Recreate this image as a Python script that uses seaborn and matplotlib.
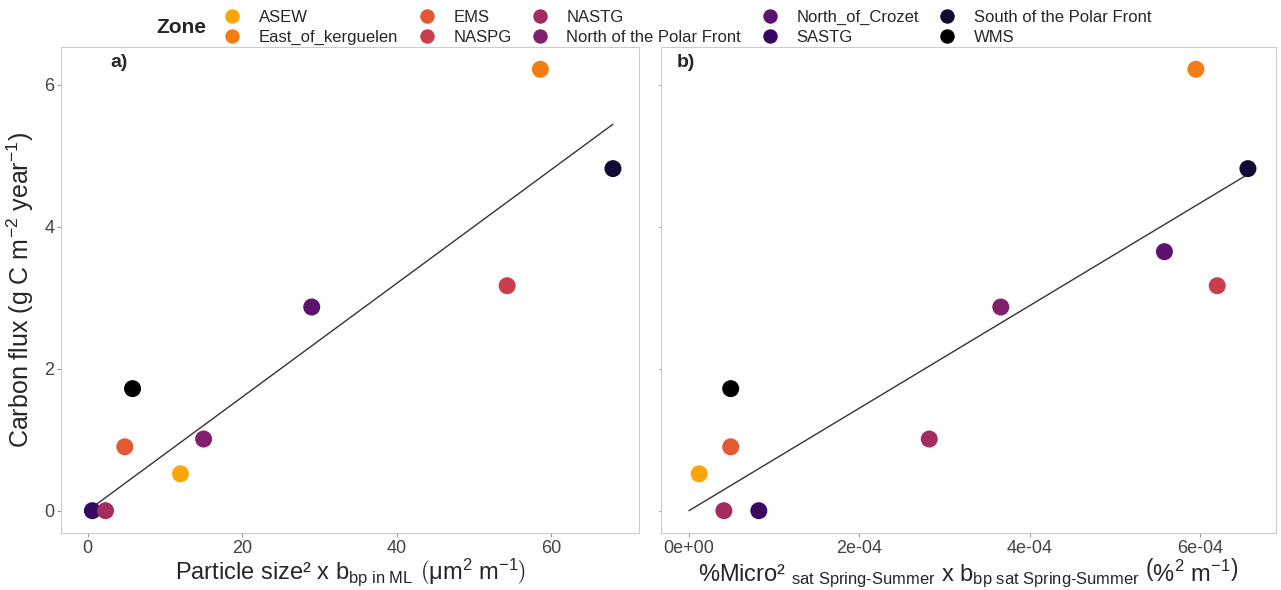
import numpy as np
import pandas as pd
import matplotlib
matplotlib.use("Agg")
import matplotlib.pyplot as plt
import seaborn as sns
from matplotlib.ticker import FuncFormatter

zones = ["ASEW", "East_of_kerguelen", "EMS", "NASPG", "NASTG",
         "North of the Polar Front", "North_of_Crozet", "SASTG",
         "South of the Polar Front", "WMS"]

# panel a
zone_a = ["East_of_kerguelen", "South of the Polar Front", "NASPG", "North_of_Crozet",
          "WMS", "EMS", "North of the Polar Front", "ASEW", "SASTG", "NASTG"]
size_a = [58.6, 68.0, 54.3, 29.0, 5.8, 4.8, 15.0, 12.0, 0.6, 2.3]
flux_a = [6.22, 4.82, 3.17, 2.87, 1.72, 0.90, 1.01, 0.52, 0.0, 0.0]

# panel b
zone_b = ["ASEW", "EMS", "WMS", "NASTG", "SASTG", "NASTG", "North of the Polar Front",
          "North_of_Crozet", "NASPG", "East_of_kerguelen", "South of the Polar Front"]
micro_b = [0.12e-4, 0.49e-4, 0.49e-4, 0.41e-4, 0.82e-4, 2.82e-4, 3.66e-4,
           5.58e-4, 6.20e-4, 5.95e-4, 6.56e-4]
flux_b = [0.52, 0.90, 1.72, 0.0, 0.0, 1.01, 2.87, 3.65, 3.17, 6.22, 4.82]

cols = plt.cm.inferno(np.linspace(0.8, 0.0, len(zones)))
pal = dict(zip(zones, cols))

sns.set_style("white")
plt.rcParams['font.family'] = ['Liberation Sans', 'DejaVu Sans']
plt.rcParams['mathtext.fontset'] = 'custom'
plt.rcParams['mathtext.rm'] = 'Liberation Sans'
plt.rcParams['mathtext.it'] = 'Liberation Sans:italic'

fig = plt.figure(figsize=(12.81, 5.9), dpi=100)
ax1 = fig.add_axes([0.048, 0.097, 0.451, 0.823])
ax2 = fig.add_axes([0.516, 0.097, 0.480, 0.823])

dfa = pd.DataFrame({"x": size_a, "y": flux_a, "Zone": zone_a})
dfb = pd.DataFrame({"x": micro_b, "y": flux_b, "Zone": zone_b})

for ax, df in [(ax1, dfa), (ax2, dfb)]:
    # regression through the origin
    x = df["x"].to_numpy()
    y = df["y"].to_numpy()
    slope = (x * y).sum() / (x * x).sum()
    xl = np.array([0, x.max()])
    sns.lineplot(x=xl, y=slope * xl, ax=ax, color="#333333", lw=1)
    sns.scatterplot(data=df, x="x", y="y", hue="Zone", hue_order=zones, palette=pal,
                    s=150, edgecolor="none", ax=ax, zorder=3)
    for sp in ax.spines.values():
        sp.set_color("#cccccc")
    ax.tick_params(axis="both", length=3, color="#999999", labelsize=13,
                   labelcolor="#444444", pad=2)
    ax.tick_params(axis="both", bottom=True, left=True)
    ax.set_ylabel("")

handles, labels = ax1.get_legend_handles_labels()
ax1.get_legend().remove()
ax2.get_legend().remove()

ax1.set_yticks([0, 2, 4, 6])
ax2.set_yticks([0, 2, 4, 6])
ax2.set_yticklabels([])
ax2.tick_params(axis="y", length=1.5)
ax1.set_xticks([0, 20, 40, 60])
ax2.set_xticks([0, 2e-4, 4e-4, 6e-4])
ax2.xaxis.set_major_formatter(FuncFormatter(lambda v, p: f"{v:.0e}"))

ax1.set_ylabel(r"Carbon flux (g C m$^{-2}$ year$^{-1}$)", fontsize=18, labelpad=6)
ax1.set_xlabel(r"Particle size² x b$_{\mathrm{bp\ in\ ML}}$ $\left(\mathrm{\mu m^2\ m^{-1}}\right)$",
               fontsize=17, labelpad=0)
ax2.set_xlabel(r"%Micro² $_{\mathrm{sat\ Spring\text{-}Summer}}$ x b$_{\mathrm{bp\ sat\ Spring\text{-}Summer}}$ $\left(\mathrm{\%^2\ m^{-1}}\right)$",
               fontsize=17, labelpad=0)

ax1.text(0.085, 0.985, "a)", transform=ax1.transAxes, fontsize=14, fontweight="bold", va="top")
ax2.text(0.025, 0.985, "b)", transform=ax2.transAxes, fontsize=14, fontweight="bold", va="top")

fig.text(0.122, 0.953, "Zone", fontsize=15, fontweight="bold", va="center")
fig.legend(handles, labels, ncol=5, loc="center left", bbox_to_anchor=(0.163, 0.953),
           frameon=False, fontsize=12, handletextpad=0.6, columnspacing=0.7,
           labelspacing=0.3, markerscale=0.85, borderaxespad=0)

fig.savefig("out.png", dpi=100)
